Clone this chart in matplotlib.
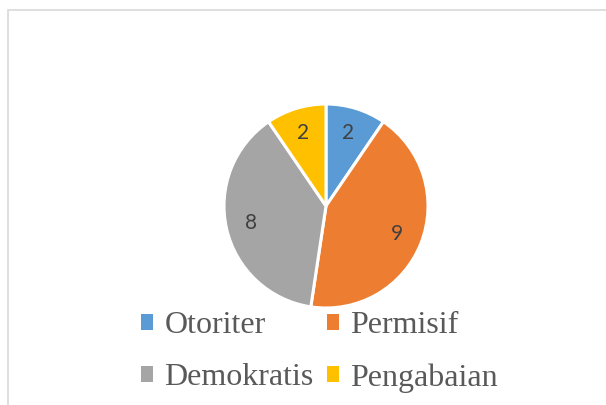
import matplotlib
matplotlib.use('Agg')
import matplotlib.pyplot as plt
from matplotlib.patches import Patch, Rectangle

# Data
categories = ['Otoriter', 'Permisif', 'Demokratis', 'Pengabaian']
values = [2, 9, 8, 2]
colors = ['#5B9BD5', '#ED7D31', '#A5A5A5', '#FFC000']

fig = plt.figure(figsize=(6.06, 4.05), dpi=100)

# chart area border (light gray, runs off the right/bottom)
fig.patches.append(Rectangle((8 / 606, -0.05), 1.0, 0.05 + 1 - 9.5 / 405,
                             transform=fig.transFigure, fill=False,
                             edgecolor='#D9D9D9', linewidth=1.2))

# pie axes: centre (326, 206) px, radius 102 px
cx, cy, r = 326, 206, 102
ax = fig.add_axes([(cx - r) / 606, (405 - cy - r) / 405, 2 * r / 606, 2 * r / 405])

wedges, texts, autotexts = ax.pie(
    values, colors=colors, startangle=90, counterclock=False,
    autopct=lambda p: '{:.0f}'.format(p * sum(values) / 100),
    pctdistance=0.75,
    wedgeprops=dict(edgecolor='white', linewidth=2.2),
    textprops=dict(color='#404040', fontsize=15, family=['Lato', 'DejaVu Sans']))
ax.set_xlim(-1, 1)
ax.set_ylim(-1, 1)
ax.set_aspect('equal')
for w in wedges:
    w.set_clip_on(False)

# legend is filled row by row in the reference, matplotlib fills by column
order = [0, 2, 1, 3]
handles = [Patch(facecolor=colors[i], edgecolor='none') for i in order]
labels = [categories[i] for i in order]
leg = fig.legend(handles, labels, loc='center', ncol=2,
                 bbox_to_anchor=(0.527, 0.131), frameon=False,
                 prop=dict(family=['Liberation Serif', 'DejaVu Serif'], size=23),
                 handlelength=0.4, handleheight=0.4, handletextpad=0.35,
                 columnspacing=0.4, labelspacing=0.72, borderpad=0)
for t in leg.get_texts():
    t.set_color('#595959')

fig.savefig('out.png', dpi=100, facecolor='white')
